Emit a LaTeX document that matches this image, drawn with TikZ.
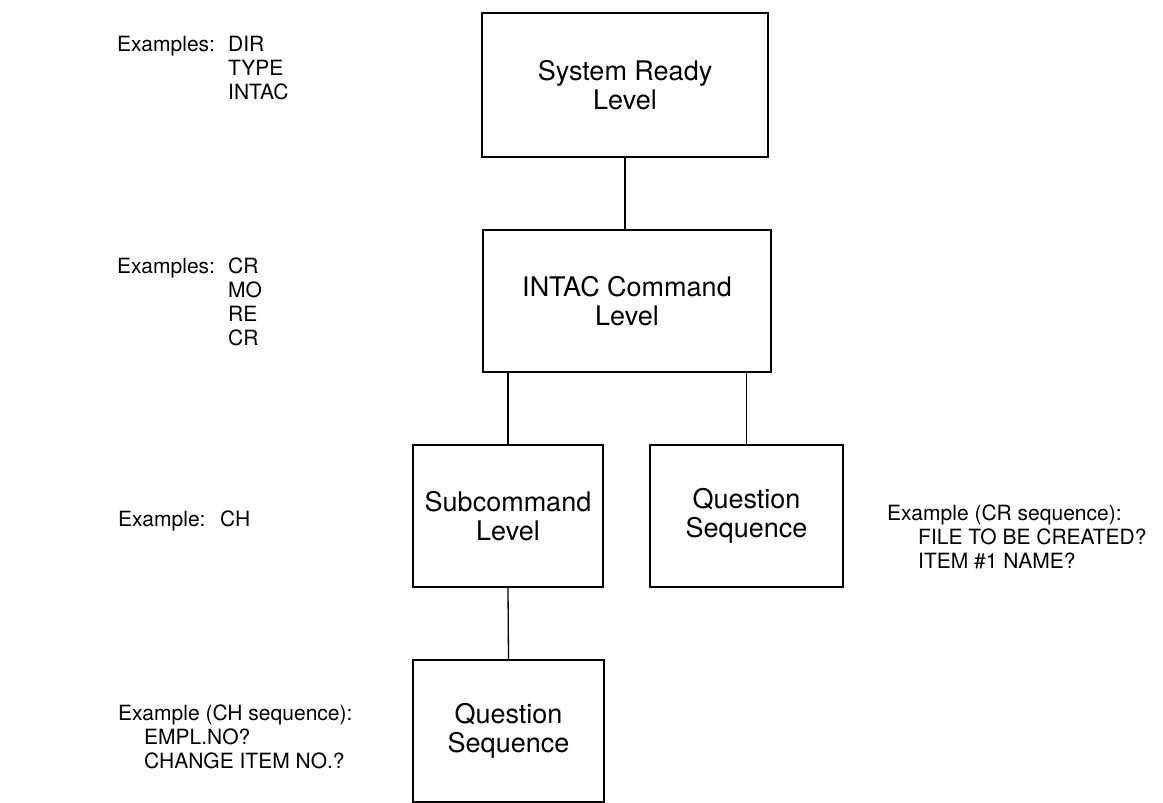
\documentclass[tikz,border=0pt]{standalone}
\usepackage{fontspec}
\setmainfont{TeX Gyre Heros}
\newcommand{\extab}[2]{\makebox[#1][l]{#2}}

\begin{document}
\begin{tikzpicture}[x=1pt,y=-1pt,
	levelbox/.style={draw,line width=1.8pt,rectangle,minimum width=#1,minimum height=142pt,
		inner sep=0pt,align=center,font=\fontsize{27}{29}\selectfont},
	note/.style={anchor=north west,inner sep=0pt,align=left,font=\fontsize{21}{24}\selectfont},
	link/.style={line width=1.3pt}]
\useasboundingbox (0,0) rectangle (1163,803);

\node [levelbox=286pt,minimum height=144pt] (ready) at (625,85) {System Ready\\Level};
\node [levelbox=288pt] (intac) at (627,301) {INTAC Command\\Level};
\node [levelbox=190pt] (subcmd) at (508,516) {Subcommand\\Level};
\node [levelbox=193pt] (crseq) at (746.5,516) {Question\\Sequence};
\node [levelbox=191pt] (chseq) at (508.5,731) {Question\\Sequence};

\draw [link] (ready.south) -- (ready.south |- intac.north);
\draw [link] (subcmd.north) -- (subcmd.north |- intac.south);
\draw [link] (crseq.north) -- (crseq.north |- intac.south);
\draw [link] (subcmd.south) -- (chseq.north);

\node [note] (readyex) at (117,36) {\extab{111pt}{Examples:}DIR\\\extab{111pt}{}TYPE\\\extab{111pt}{}INTAC};
\node [note] (intacex) at (117,258) {\extab{111pt}{Examples:}CR\\\extab{111pt}{}MO\\\extab{111pt}{}RE\\\extab{111pt}{}CR};
\node [note] (subex) at (118,511) {\extab{102pt}{Example:}CH};
\node [note] (crex) at (887,505) {Example (CR sequence):\\\extab{31pt}{}FILE TO BE CREATED?\\\extab{31pt}{}ITEM \#1 NAME?};
\node [note] (chex) at (118,705) {Example (CH sequence):\\\extab{26pt}{}EMPL.NO?\\\extab{26pt}{}CHANGE ITEM NO.?};
\end{tikzpicture}
\end{document}
